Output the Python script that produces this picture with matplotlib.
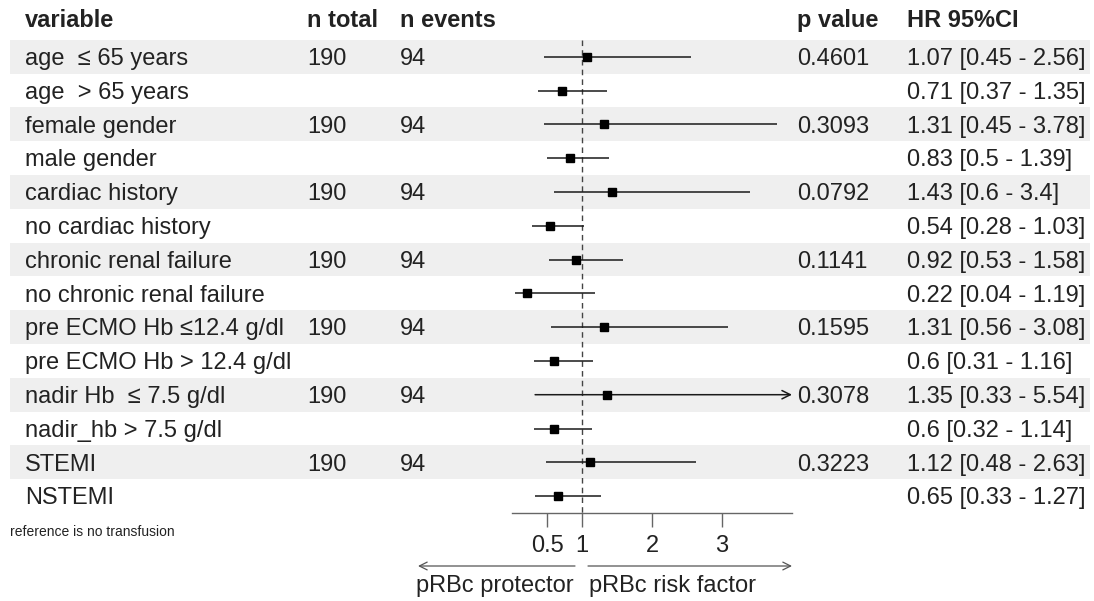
import matplotlib
matplotlib.use("Agg")
from matplotlib import pyplot as plt

plt.rcParams['font.family'] = ['Liberation Sans', 'DejaVu Sans']

# data
variables = ["age  \u2264 65 years", "age  > 65 years", "female gender", "male gender",
             "cardiac history", "no cardiac history", "chronic renal failure",
             "no chronic renal failure", "pre ECMO Hb \u226412.4 g/dl", "pre ECMO Hb > 12.4 g/dl",
             "nadir Hb  \u2264 7.5 g/dl", "nadir_hb > 7.5 g/dl", "STEMI", "NSTEMI"]
n_total = ["190", "", "190", "", "190", "", "190", "", "190", "", "190", "", "190", ""]
n_events = ["94", "", "94", "", "94", "", "94", "", "94", "", "94", "", "94", ""]
p_values = ["0.4601", "", "0.3093", "", "0.0792", "", "0.1141", "", "0.1595", "", "0.3078", "", "0.3223", ""]
hr = [1.07, 0.71, 1.31, 0.83, 1.43, 0.54, 0.92, 0.22, 1.31, 0.6, 1.35, 0.6, 1.12, 0.65]
ci_low = [0.45, 0.37, 0.45, 0.5, 0.6, 0.28, 0.53, 0.04, 0.56, 0.31, 0.33, 0.32, 0.48, 0.33]
ci_high = [2.56, 1.35, 3.78, 1.39, 3.4, 1.03, 1.58, 1.19, 3.08, 1.16, 5.54, 1.14, 2.63, 1.27]
x_ticks = [0.5, 1, 2, 3]
x_max = 4

W, H = 1094, 601
row0, step = 56.7, 33.8  # pixel centre of first row, row height
dy = 0.07  # small downward nudge so text sits like the original

fig = plt.figure(figsize=(W / 100, H / 100), dpi=100)

# table axes: x in pixels, y in row units
tab = fig.add_axes([0, 0, 1, 1])
tab.set_xlim(0, W)
tab.set_ylim((H - row0) / step, -row0 / step)
tab.axis("off")

fs = 17
txt = "#222222"
cols = {"variable": 25, "n total": 307, "n events": 400, "p value": 797, "HR 95%CI": 907}
for name, x in cols.items():
    tab.text(x, -1.15 + dy, name, fontsize=fs, fontweight="bold", va="center", ha="left", color=txt)

for i, var in enumerate(variables):
    if i % 2 == 0:
        tab.axhspan(i - 0.5, i + 0.5, xmin=10 / W, xmax=1090 / W, color="#efefef", lw=0, zorder=0)
    label = f"{hr[i]:g} [{ci_low[i]:g} - {ci_high[i]:g}]"
    for key, s in zip(cols, [var, n_total[i], n_events[i], p_values[i], label]):
        tab.text(cols[key], i + dy, s, fontsize=fs, va="center", ha="left", color=txt)

tab.text(10, (532 - row0) / step, "reference is no transfusion", fontsize=10, va="center", ha="left", color=txt)

# direction arrows below axis
ya = (566 - row0) / step
yl = (586 - row0) / step
arw = dict(arrowstyle="->", color="#555555", lw=0.9, shrinkA=0, shrinkB=0, mutation_scale=14)
tab.annotate("", xy=(418, ya), xytext=(575, ya), arrowprops=arw)
tab.annotate("", xy=(792, ya), xytext=(588, ya), arrowprops=arw)
tab.text(574, yl, "pRBc protector", fontsize=fs, va="center", ha="right", color=txt)
tab.text(589, yl, "pRBc risk factor", fontsize=fs, va="center", ha="left", color=txt)

# forest axes
bottom_px = 513
ax = fig.add_axes([512 / W, 1 - bottom_px / H, 280 / W, bottom_px / H])
ax.patch.set_alpha(0)
ax.set_xlim(0, x_max)
ax.set_ylim((bottom_px - row0) / step, -row0 / step)
for s in ["top", "left", "right"]:
    ax.spines[s].set_visible(False)
ax.spines["bottom"].set_color("#666666")
ax.spines["bottom"].set_linewidth(1)
ax.set_yticks([])
ax.set_xticks(x_ticks)
ax.set_xticklabels([f"{t:g}" for t in x_ticks])
ax.tick_params(axis="x", length=10, width=1, color="#666666", pad=6, labelsize=fs, labelcolor=txt)

ax.vlines(1, -0.5, (bottom_px - row0) / step, colors="#444444", linestyles=(0, (4, 3)), lw=1, zorder=1)

for i in range(len(hr)):
    if ci_high[i] > x_max:
        ax.annotate("", xy=(x_max, i), xytext=(ci_low[i], i),
                    arrowprops=dict(arrowstyle="->", color="#1a1a1a", lw=1.1, shrinkA=0, shrinkB=0,
                                    mutation_scale=15),
                    annotation_clip=False)
    else:
        ax.hlines(i, ci_low[i], ci_high[i], colors="#1a1a1a", lw=1.1, zorder=2)
    ax.plot(hr[i], i, marker="s", ms=5.5, color="black", zorder=3)

fig.savefig("out.png", dpi=100)
